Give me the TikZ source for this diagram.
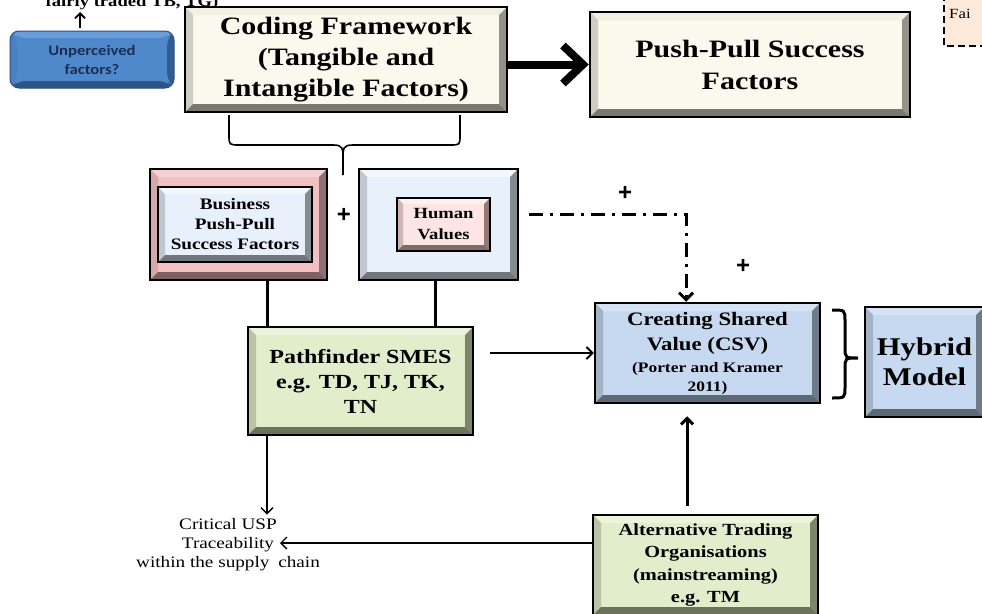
\documentclass[tikz,border=0pt]{standalone}
\usepackage{fontspec}
\setmainfont{Liberation Serif}[FakeStretch=1.2]
\newfontfamily\calfont{Carlito}[FakeStretch=1.15]
\newfontfamily\plusfont{Liberation Sans}
\usetikzlibrary{arrows.meta,calc}
\newcommand\myfs[2]{\fontsize{#1}{#2}\selectfont}
\definecolor{cream}{HTML}{FBF9EE}\definecolor{creamT}{HTML}{F1F0E5}\definecolor{creamL}{HTML}{CFCEC4}\definecolor{creamR}{HTML}{94938A}\definecolor{creamB}{HTML}{7A7970}
\definecolor{pinkO}{HTML}{F2C0C0}\definecolor{pinkOT}{HTML}{F5D2D2}\definecolor{pinkOL}{HTML}{D5A9A9}\definecolor{pinkOR}{HTML}{8F6F6F}\definecolor{pinkOB}{HTML}{7D6060}
\definecolor{lblue}{HTML}{E8F1FB}\definecolor{lblueT}{HTML}{F4F8FD}\definecolor{lblueL}{HTML}{BFC7D0}\definecolor{lblueR}{HTML}{848B93}\definecolor{lblueB}{HTML}{70767D}
\definecolor{pinkI}{HTML}{FDE5E5}\definecolor{pinkIT}{HTML}{FFF0F0}\definecolor{pinkIL}{HTML}{D0B5B5}\definecolor{pinkIR}{HTML}{937979}\definecolor{pinkIB}{HTML}{806A6A}
\definecolor{green}{HTML}{E2EDCC}\definecolor{greenT}{HTML}{EDF4DE}\definecolor{greenL}{HTML}{BAC4A4}\definecolor{greenR}{HTML}{7D866B}\definecolor{greenB}{HTML}{6B735B}
\definecolor{csvb}{HTML}{C6D9F1}\definecolor{csvbT}{HTML}{D5E3F5}\definecolor{csvbL}{HTML}{A3B2C4}\definecolor{csvbR}{HTML}{6E7B8A}\definecolor{csvbB}{HTML}{5E6976}
\definecolor{unp}{HTML}{5088CC}\definecolor{unpT}{HTML}{6A9EDB}\definecolor{unpL}{HTML}{4A80BF}\definecolor{unpR}{HTML}{2F5D92}\definecolor{unpB}{HTML}{2B5587}\definecolor{unpD}{HTML}{2B4F80}
\definecolor{unptext}{HTML}{1C2E52}
\definecolor{peach}{HTML}{FDE9D9}
\tikzset{
  bevel/.style n args={5}{path picture={
    \coordinate (bNW) at (path picture bounding box.north west);
    \coordinate (bNE) at (path picture bounding box.north east);
    \coordinate (bSW) at (path picture bounding box.south west);
    \coordinate (bSE) at (path picture bounding box.south east);
    \coordinate (iNW) at ([xshift=#5,yshift=-#5]bNW);
    \coordinate (iNE) at ([xshift=-#5,yshift=-#5]bNE);
    \coordinate (iSW) at ([xshift=#5,yshift=#5]bSW);
    \coordinate (iSE) at ([xshift=-#5,yshift=#5]bSE);
    \fill[#1] (bNW) -- (bNE) -- (iNE) -- (iNW) -- cycle;
    \fill[#2] (bNW) -- (iNW) -- (iSW) -- (bSW) -- cycle;
    \fill[#3] (bNE) -- (bSE) -- (iSE) -- (iNE) -- cycle;
    \fill[#4] (bSW) -- (iSW) -- (iSE) -- (bSE) -- cycle;
  }},
  box/.style={draw=black, line width=2.5pt, inner sep=0pt, align=center, font=\bfseries},
  thinbox/.style={draw=black, line width=1.2pt, inner sep=0pt, align=center, font=\bfseries},
  creambox/.style={box, fill=cream, bevel={creamT}{creamL}{creamR}{creamB}{8pt}},
  greenbox/.style={box, fill=green, bevel={greenT}{greenL}{greenR}{greenB}{8pt}},
  csvbox/.style={box, fill=csvb, bevel={csvbT}{csvbL}{csvbR}{csvbB}{8pt}},
  thinarrow/.style={line width=1.3pt, -{Straight Barb[length=6pt,width=12pt]}},
  plus/.style={font=\plusfont\bfseries\myfs{24}{24}, inner sep=0pt},
}
\begin{document}
\begin{tikzpicture}[x=1pt,y=-1pt]
\useasboundingbox (0,0) rectangle (982,613);
\fill[white] (0,0) rectangle (982,613);

% top-left partial text and arrow
\node[font=\bfseries\myfs{15.5}{18}, anchor=base, inner sep=0pt] (fair) at (132,6) {fairly traded TB, TG)};
\coordinate (upS) at (80,28);
\coordinate (upE) at (80,12);
\draw[line width=1.8pt, -{Straight Barb[length=5pt,width=10pt]}] (upS) -- (upE);

% Unperceived factors
\node[draw=unpD, line width=1pt, rounded corners=9pt, fill=unp, bevel={unpT}{unpL}{unpR}{unpB}{7pt},
      minimum width=164pt, minimum height=57pt, inner sep=0pt, align=center,
      font=\calfont\bfseries\myfs{14.5}{19}, text=unptext] (unp) at (92,59.5) {Unperceived\\factors?};

% top right dashed box (cut)
\draw[dashed, dash pattern=on 7pt off 4pt, line width=2pt, fill=peach] (944,-6) rectangle (992,46);
\node[anchor=west, font=\myfs{14}{16}, inner sep=0pt] (fai) at (949,14) {Fai};

% Coding framework and Push-Pull
\node[creambox, minimum width=322pt, minimum height=105pt, font=\bfseries\myfs{25}{31}] (coding) at (346,59.5)
  {Coding Framework\\(Tangible and\\Intangible Factors)};
\node[creambox, minimum width=320pt, minimum height=105pt, font=\bfseries\myfs{25}{32}] (push) at (750,64.5)
  {Push-Pull Success\\Factors};
\draw[line width=8pt, -{Straight Barb[length=20pt,width=38pt]}] (coding.east |- push.west) -- (push.west);

% brace under coding
\draw[line width=1.6pt] (229,115) -- (229,135) .. controls (229,145) .. (240,145) -- (333,145)
   .. controls (343,145) and (343,148) .. (343,160) -- (343,175);
\draw[line width=1.6pt] (460,115) -- (460,135) .. controls (460,145) .. (450,145) -- (353,145)
   .. controls (343,145) and (343,148) .. (343,160);

% Business box
\node[box, fill=pinkO, bevel={pinkOT}{pinkOL}{pinkOR}{pinkOB}{8pt}, minimum width=177pt, minimum height=111pt] (bus) at (238.5,224.5) {};
\node[thinbox, fill=lblue, bevel={lblueT}{lblueL}{lblueR}{lblueB}{7pt}, minimum width=154pt, minimum height=75pt,
      font=\bfseries\myfs{16}{20}] (busin) at (235,224.5) {Business\\Push-Pull\\Success Factors};
\node[plus] (plusA) at (344,215) {+};

% Human values box
\node[box, fill=lblue, bevel={lblueT}{lblueL}{lblueR}{lblueB}{8pt}, minimum width=159pt, minimum height=111pt] (hum) at (438.5,224.5) {};
\node[thinbox, fill=pinkI, bevel={pinkIT}{pinkIL}{pinkIR}{pinkIB}{6pt}, minimum width=93pt, minimum height=53pt,
      font=\bfseries\myfs{15.5}{21}] (humin) at (443.5,224.5) {Human\\Values};

% Pathfinder
\node[greenbox, minimum width=225pt, minimum height=108pt, font=\bfseries\myfs{20}{25}] (path) at (360.5,381)
  {Pathfinder SMES\\e.g. TD, TJ, TK,\\TN};
\draw[line width=3pt] ([xshift=28.5pt]bus.south) -- ([xshift=28.5pt]bus.south |- path.north);
\draw[line width=3pt] ([xshift=-3.5pt]hum.south) -- ([xshift=-3.5pt]hum.south |- path.north);

% CSV
\node[csvbox, minimum width=225pt, minimum height=100pt, font=\bfseries\myfs{19}{25}] (csv) at (707.5,353)
  {Creating Shared\\Value (CSV)\\[-3pt]{\myfs{14.5}{19}(Porter and Kramer}\\[-6pt]{\myfs{14.5}{19}2011)}};

% Hybrid model
\node[csvbox, line width=2pt, minimum width=119pt, minimum height=110pt, font=\bfseries\myfs{25.5}{30}] (hyb) at (924.5,362)
  {Hybrid\\Model};
\draw[line width=3pt] (832,310) .. controls (845,310) .. (845,321) -- (845,347) .. controls (845,358) .. (858,358)
   .. controls (845,358) .. (845,369) -- (845,387) .. controls (845,398) .. (832,398);

% ATO
\node[greenbox, minimum width=225pt, minimum height=100pt, font=\bfseries\myfs{17}{22.5}] (ato) at (705.5,565)
  {Alternative Trading\\Organisations\\(mainstreaming)\\e.g. TM};

% Critical text
\node[align=center, font=\myfs{16}{19}, inner sep=0pt] (crit) at (228,545)
  {Critical USP\\Traceability\\within the supply\hspace{4pt} chain};
\coordinate (critTip) at (280,543);

% connectors
\draw[line width=3pt, dash pattern=on 14pt off 7pt on 3pt off 7pt, -{Straight Barb[length=7pt,width=14pt]}]
  ([xshift=10pt,yshift=10.5pt]hum.east) -| ([xshift=-21.5pt]csv.north);
\node[plus] (plusB) at (625,193) {+};
\node[plus] (plusC) at (743,266) {+};
\draw[line width=1.8pt, -{Straight Barb[length=6pt,width=12pt]}] ([xshift=16pt]path.east |- csv.west) -- (csv.west);
\draw[thinarrow] ([xshift=-93.5pt]path.south) -- ([xshift=-93.5pt,yshift=4pt]path.south |- crit.north);
\draw[thinarrow] (ato.west |- critTip) -- (critTip);
\draw[line width=3pt, -{Straight Barb[length=6pt,width=12pt]}] ([xshift=-18.5pt,yshift=8pt]ato.north) -- ([xshift=-20.5pt,yshift=-12pt]csv.south);
\end{tikzpicture}
\end{document}
